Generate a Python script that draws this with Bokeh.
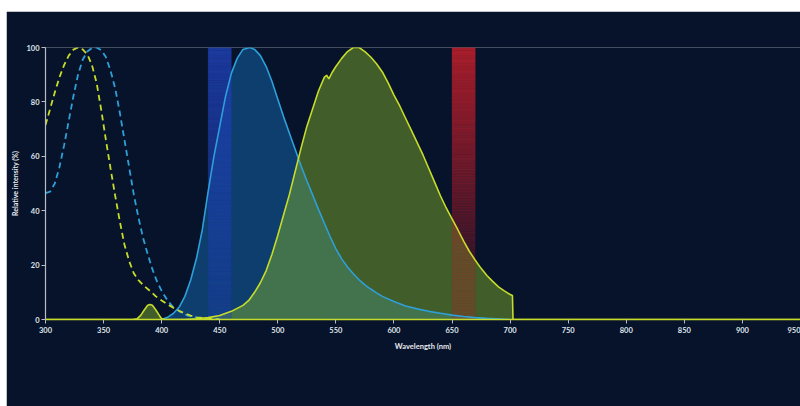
from bokeh.plotting import figure
from bokeh.models import Range1d, ColumnDataSource, FixedTicker
from bokeh.embed import file_html
from bokeh.resources import INLINE

# ---- data (wavelength nm, relative intensity %) ----
ex_blue_wl = [300, 304, 308, 312, 316, 320, 324, 328, 332, 336, 340, 344, 348, 352, 356, 360,
              364, 368, 372, 376, 380, 384, 388, 392, 396, 400, 405, 410, 416, 422, 430, 440, 450]
ex_blue_val = [46.5, 47, 50, 56, 64, 73, 82, 90, 95.5, 98.5, 99.8, 100, 99, 96.5, 91.5, 85,
               76, 66, 56, 46, 37.5, 30, 24, 18.5, 14, 10.5, 7, 4.5, 2.8, 1.5, 0.7, 0.3, 0]

ex_yel_wl = [300, 304, 308, 312, 316, 320, 324, 328, 332, 336, 340, 344, 348, 352, 356, 360,
             364, 368, 372, 376, 380, 385, 390, 395, 400, 405, 410, 415, 420, 425, 430, 440, 450]
ex_yel_val = [71.5, 77.5, 83.5, 89, 93.5, 97, 99.2, 100, 99.3, 97.5, 93.5, 87, 77, 66, 55.5, 45.5,
              36, 27.5, 21.5, 17, 14.5, 12.3, 10.5, 8.5, 7, 5.6, 4.3, 3.2, 2.2, 1.4, 0.8, 0.3, 0]

em_blue_wl = [400, 405, 410, 415, 420, 425, 430, 435, 440, 445, 450, 455, 460, 465, 470, 476,
              480, 485, 490, 495, 500, 505, 510, 515, 520, 525, 530, 535, 540, 545, 550, 555,
              560, 565, 570, 575, 580, 585, 590, 600, 610, 620, 630, 640, 650, 660, 670,
              680, 700]
em_blue_val = [0, 0.8, 2.2, 4.5, 8.5, 14.5, 22.5, 33, 47, 60, 71, 82, 90.5, 96, 99.3, 100,
               99.3, 97, 93, 87.5, 81, 74.5, 68.5, 62.5, 56.5, 51, 45.8, 40.5, 35.5, 30.5, 26, 22.3,
               19.3, 16.8, 14.6, 12.7, 11.2, 9.8, 8.5, 6.6, 5, 3.9, 3, 2.3, 1.6, 1.1, 0.7,
               0.4, 0]

em_yel_wl = [300, 375, 379, 382, 385, 388, 390, 392, 395, 398, 400, 402, 420, 430, 440, 450,
             460, 470, 475, 480, 485, 490, 495, 500, 505, 510, 515, 520, 525, 530, 535, 540,
             542, 544, 547, 550, 555, 560, 565, 570, 575, 580, 585, 590, 595, 600, 605, 610,
             615, 620, 625, 630, 635, 640, 645, 650, 655, 660, 665, 670, 675, 680, 685, 690,
             695, 700, 702, 702.5, 950]
em_yel_val = [0, 0, 0.3, 1.5, 3.5, 5.2, 5.5, 5.2, 3.5, 1.5, 0.3, 0, 0, 0.3, 0.7, 1.5,
              3, 5.2, 7, 10, 13.5, 18, 24, 31, 38.5, 46, 54.5, 63, 71, 77.5, 84, 89,
              89.8, 88.5, 91, 93, 96, 98.5, 100, 100, 98.5, 96.5, 94, 91, 87, 82.5, 78.5, 74,
              69.5, 65, 60.5, 55.5, 50.5, 45.5, 41, 37, 33, 28.8, 25, 21.8, 18.8, 16.2, 14, 12,
              10.5, 9.2, 8.8, 0, 0]

filter_blue = (440, 460)
filter_red = (650, 670)

x_ticks = list(range(300, 951, 50))
y_ticks = [0, 20, 40, 60, 80, 100]

# ---- styling ----
BG = "#07132a"
BLUE = "#2e9fd8"
YEL = "#c6dc2a"

p = figure(width=794, height=395, output_backend="svg", toolbar_location=None,
           x_range=Range1d(300, 950), y_range=Range1d(0, 100),
           margin=(11, 0, 0, 6),
           min_border_left=39, min_border_right=0, min_border_top=36, min_border_bottom=87)
p.background_fill_color = BG
p.border_fill_color = BG
p.outline_line_color = None
p.grid.visible = False

# fills
p.varea(x=em_blue_wl, y1=0, y2=em_blue_val, fill_color="#1673c0", fill_alpha=0.45)
p.varea(x=em_yel_wl, y1=0, y2=em_yel_val, fill_color="#7aa82a", fill_alpha=0.5)

# gradient filter bands
def band(lo, hi, color, alpha_fn, n=100):
    bottoms = [100 * i / n for i in range(n)]
    tops = [100 * (i + 1) / n for i in range(n)]
    alphas = [alpha_fn((b + t) / 2) for b, t in zip(bottoms, tops)]
    src = ColumnDataSource(dict(left=[lo] * n, right=[hi] * n, bottom=bottoms, top=tops, a=alphas))
    p.quad(left="left", right="right", bottom="bottom", top="top", source=src,
           fill_color=color, fill_alpha="a", line_color=color, line_alpha="a", line_width=0.3)

band(filter_blue[0], filter_blue[1], "#1f40b0", lambda v: 0.35 + 0.5 * v / 100)
band(filter_red[0], filter_red[1], "#c0202c",
     lambda v: 0.25 if v < 25 else 0.25 + 0.6 * (v - 25) / 75)

# lines
p.line(ex_blue_wl, ex_blue_val, line_color=BLUE, line_width=1.8, line_dash="6 4")
p.line(ex_yel_wl, ex_yel_val, line_color=YEL, line_width=1.8, line_dash="6 4")
p.line(em_blue_wl, em_blue_val, line_color=BLUE, line_width=1.6)
p.line(em_yel_wl, em_yel_val, line_color=YEL, line_width=1.6)

# axes
for ax in (p.xaxis[0], p.yaxis[0]):
    ax.major_tick_line_color = "#b8bcc6"
    ax.major_tick_out = 4
    ax.major_tick_in = 0
    ax.minor_tick_line_color = None
    ax.major_label_text_color = "#dfe3ea"
    ax.major_label_text_font = "Lato"
    ax.major_label_text_font_style = "bold"
    ax.major_label_text_font_size = "7.5px"
    ax.axis_label_text_color = "#e6e9ee"
    ax.axis_label_text_font = "Lato"
    ax.axis_label_text_font_style = "bold"

p.xaxis.ticker = FixedTicker(ticks=x_ticks)
p.yaxis.ticker = FixedTicker(ticks=y_ticks)
p.xaxis.axis_line_color = YEL
p.xaxis.axis_line_width = 1.5
p.yaxis.axis_line_color = "#b8bcc6"
p.yaxis.axis_line_width = 1.2
p.xaxis.axis_label = "Wavelength (nm)"
p.yaxis.axis_label = "Relative intensity (%)"
p.xaxis.axis_label_text_font_size = "7.5px"
p.yaxis.axis_label_text_font_size = "7px"
p.xaxis.major_label_standoff = 3
p.yaxis.major_label_standoff = 2
p.xaxis.axis_label_standoff = 6
p.yaxis.axis_label_standoff = 4

open("out.html", "w").write(file_html(p, INLINE))
